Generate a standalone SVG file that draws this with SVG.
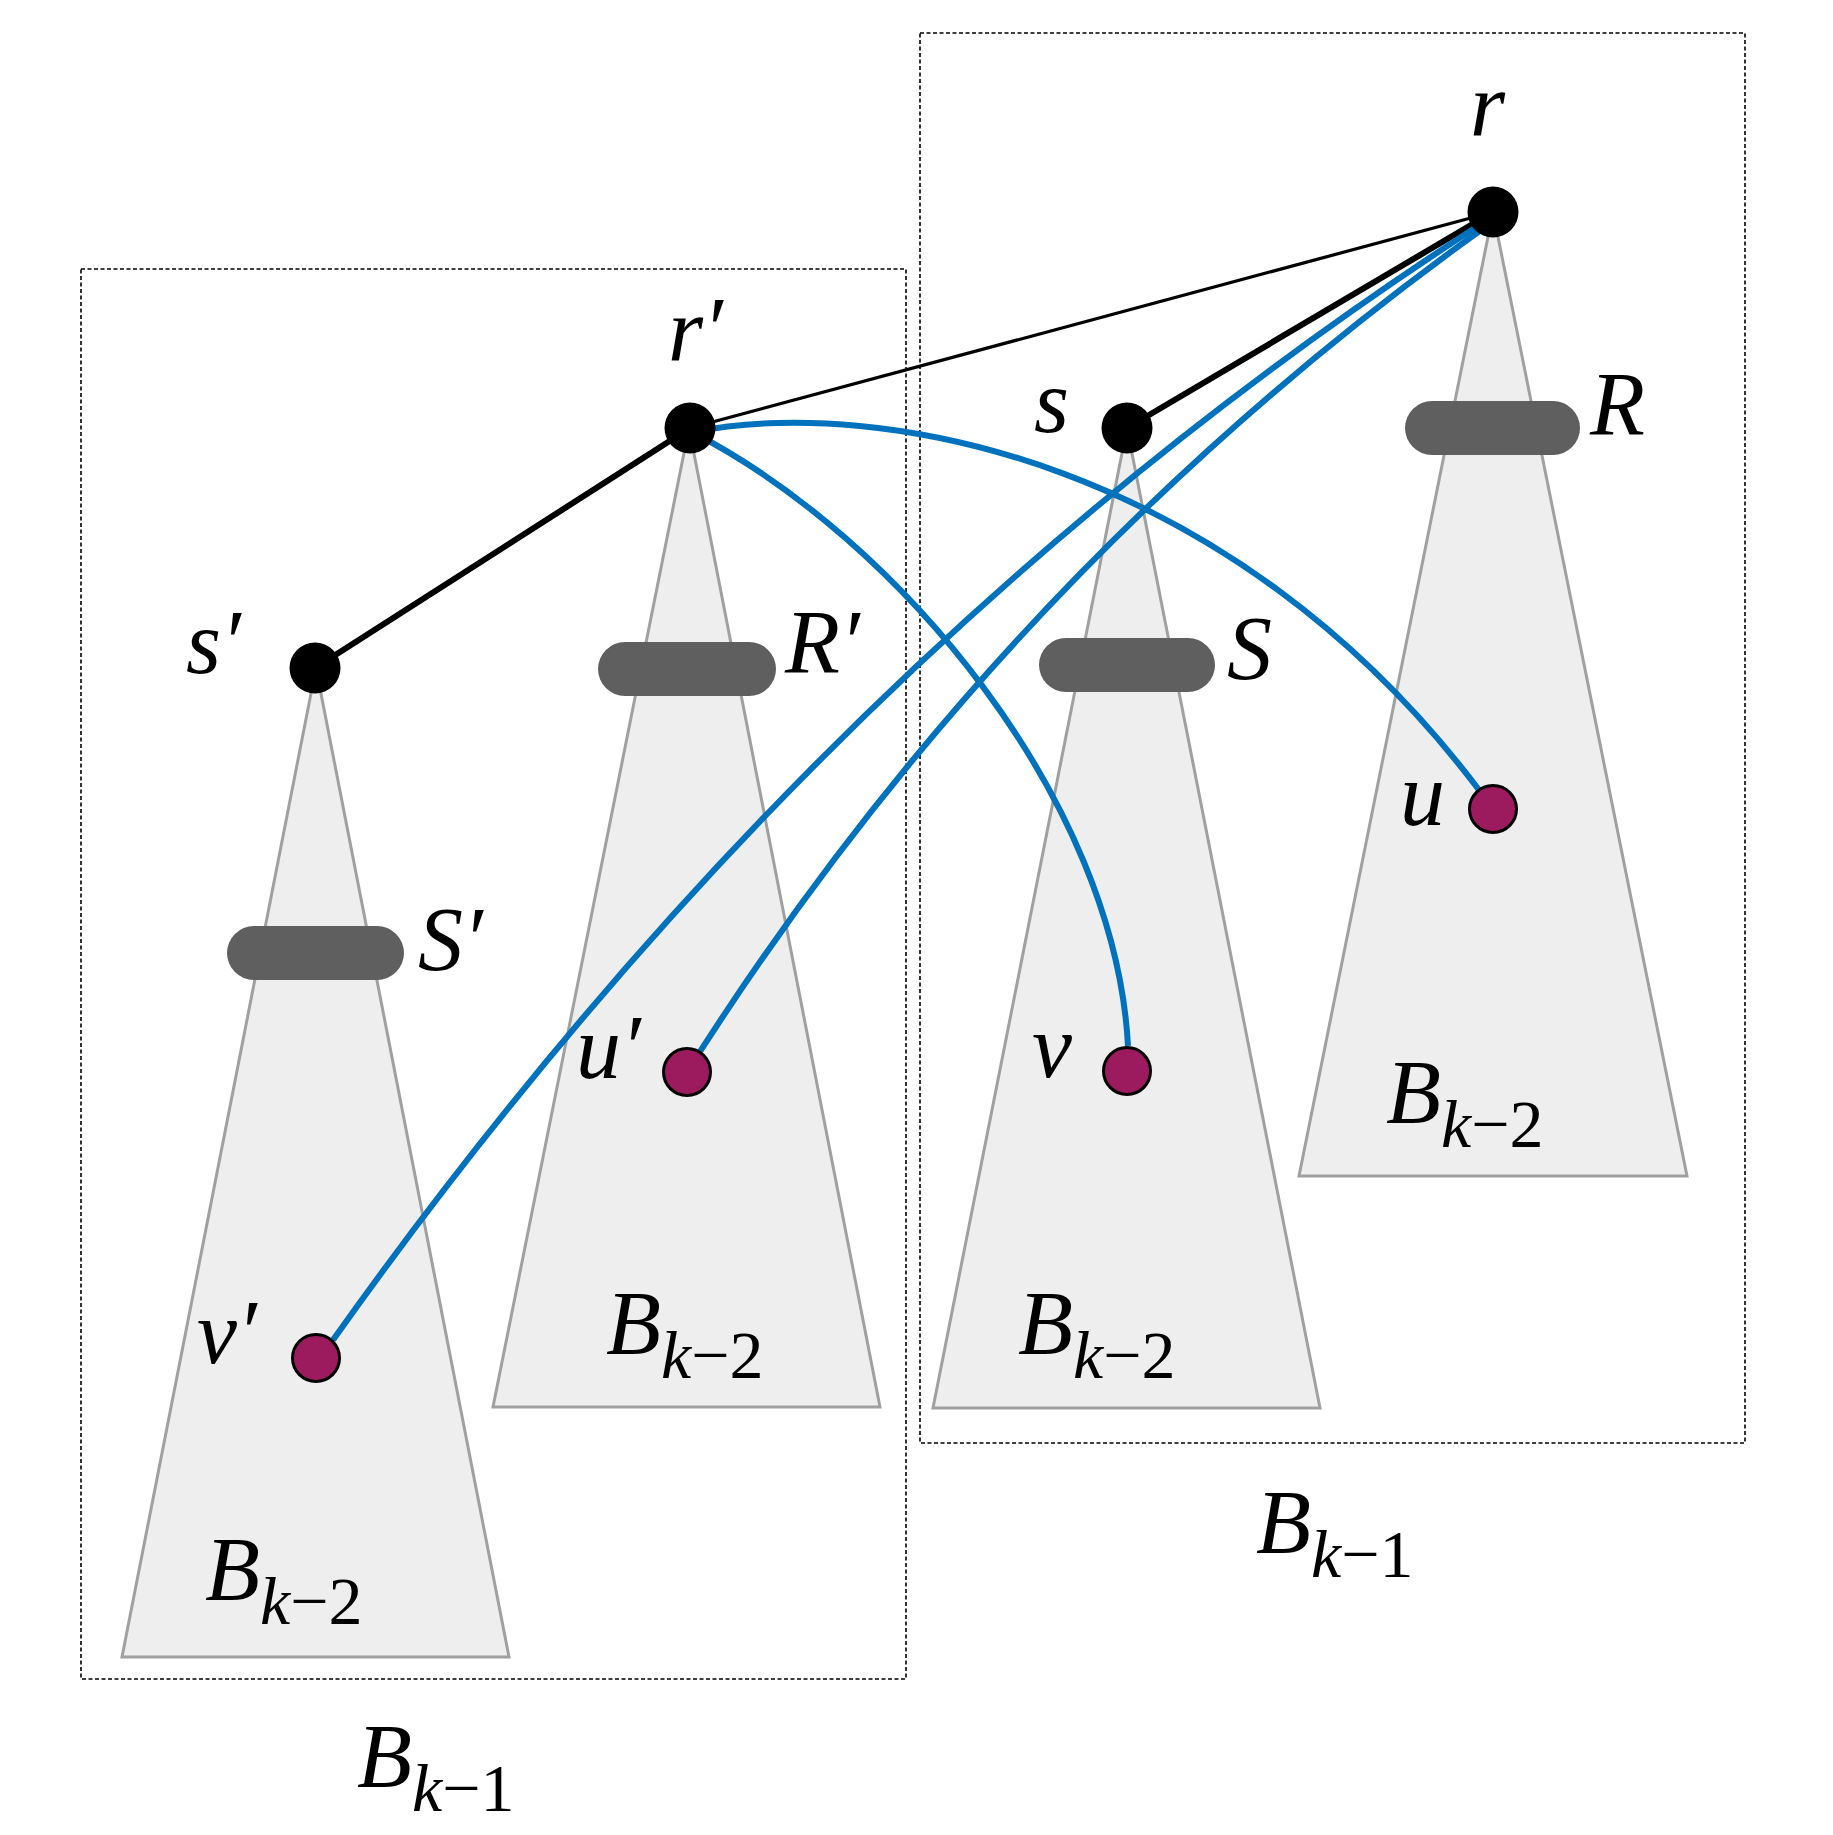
<svg xmlns="http://www.w3.org/2000/svg" width="1833" height="1835" viewBox="0 0 1833 1835">
<style>
.box{fill:none;stroke:#000;stroke-width:1.6;stroke-dasharray:4 2.5}
.tri{fill:#eeeeee;stroke:#a0a0a0;stroke-width:3}
.bar{fill:#5f5f5f}
.edge{stroke:#000;fill:none;stroke-linecap:round}
.blue{stroke:#0072bd;stroke-width:6;fill:none}
.node{fill:#000}
.leaf{fill:#9b1b5e;stroke:#000;stroke-width:3}
text{font-family:'Liberation Serif',serif;font-style:italic;font-size:90px;fill:#000}
.sub{font-size:68px}
.up{font-style:normal}
</style>
<rect width="1833" height="1835" fill="#fff"/>
<g id="boxes">
<rect class="box" x="81" y="269" width="825" height="1410"/>
<rect class="box" x="920" y="33" width="825" height="1410"/>
</g>
<g id="subtrees">
<polygon class="tri" points="316,668 509,1657 122,1657"/>
<polygon class="tri" points="689,428 880,1407 493,1407"/>
<polygon class="tri" points="1127,428 1320,1408 933,1408"/>
<polygon class="tri" points="1493,212 1687,1176 1299,1176"/>
<rect class="bar" x="227" y="926" width="177" height="54" rx="27"/>
<rect class="bar" x="598" y="642" width="178" height="54" rx="27"/>
<rect class="bar" x="1039" y="638" width="176" height="54" rx="27"/>
<rect class="bar" x="1405" y="401" width="175" height="54" rx="27"/>
</g>
<g id="connectors">
<line class="edge" x1="690" y1="428" x2="315" y2="668" stroke-width="6"/>
<line class="edge" x1="690" y1="428" x2="1493" y2="212" stroke-width="3.2"/>
<line class="edge" x1="1127" y1="428" x2="1493" y2="212" stroke-width="6"/>
<path class="blue" d="M693,432 C880,395 1230,460 1479,790"/>
<path class="blue" d="M694,433 C900,540 1115,800 1128,1046"/>
<path class="blue" d="M1495,215 Q830,640 333,1340"/>
<path class="blue" d="M1495,220 Q1007,566 687,1072"/>
</g>
<g id="node-r"><circle class="node" cx="1493" cy="212" r="25.5"/><text x="1470" y="135">r</text></g>
<g id="node-rp"><circle class="node" cx="690" cy="428" r="25.5"/><text x="668" y="360">r′</text></g>
<g id="node-s"><circle class="node" cx="1127" cy="428" r="25.5"/><text x="1034" y="432">s</text></g>
<g id="node-sp"><circle class="node" cx="315" cy="668" r="25.5"/><text x="186" y="673">s′</text></g>
<g id="node-u"><circle class="leaf" cx="1493" cy="809" r="23.5"/><text x="1400" y="825">u</text></g>
<g id="node-up"><circle class="leaf" cx="687" cy="1072" r="23.5"/><text x="576" y="1078">u′</text></g>
<g id="node-v"><circle class="leaf" cx="1127" cy="1071" r="23.5"/><text x="1032" y="1077">v</text></g>
<g id="node-vp"><circle class="leaf" cx="316" cy="1358" r="23.5"/><text x="197" y="1363">v′</text></g>
<g id="labels">
<text x="1590" y="435">R</text>
<text x="785" y="673">R′</text>
<text x="1227" y="679">S</text>
<text x="418" y="970">S′</text>
<text x="205" y="1600">B<tspan class="sub" dy="24">k</tspan><tspan class="sub up">−2</tspan></text>
<text x="606" y="1354">B<tspan class="sub" dy="24">k</tspan><tspan class="sub up">−2</tspan></text>
<text x="1018" y="1354">B<tspan class="sub" dy="24">k</tspan><tspan class="sub up">−2</tspan></text>
<text x="1386" y="1123">B<tspan class="sub" dy="24">k</tspan><tspan class="sub up">−2</tspan></text>
<text x="357" y="1787">B<tspan class="sub" dy="24">k</tspan><tspan class="sub up">−1</tspan></text>
<text x="1256" y="1553">B<tspan class="sub" dy="24">k</tspan><tspan class="sub up">−1</tspan></text>
</g>
</svg>
